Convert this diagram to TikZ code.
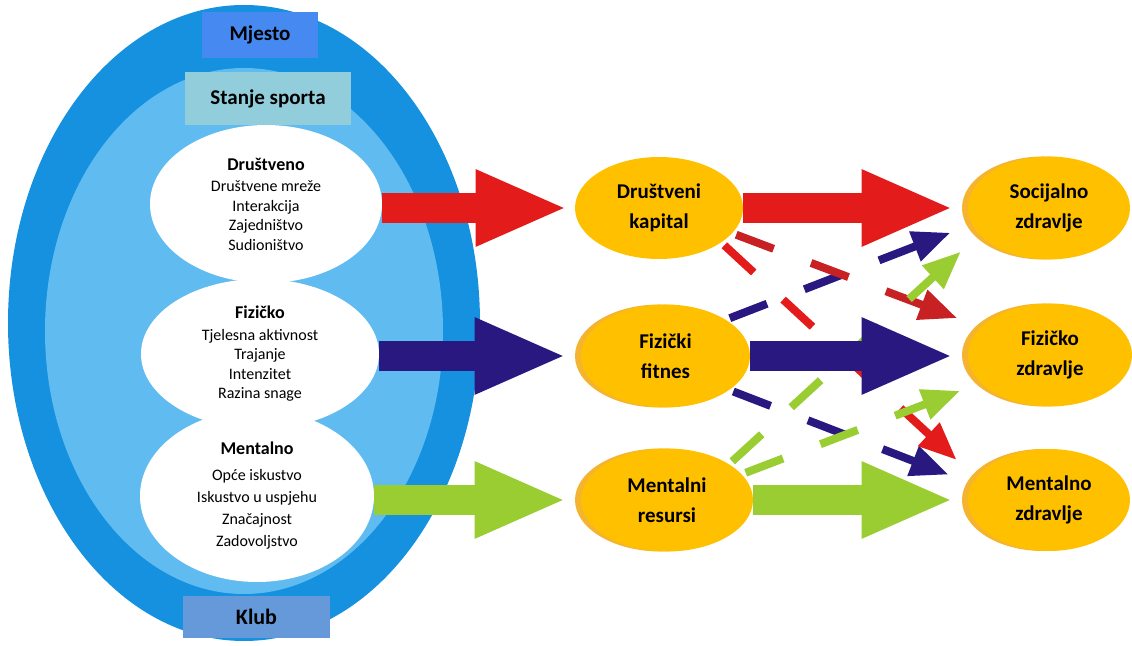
\documentclass[tikz,border=0pt]{standalone}
\usepackage{fontspec}
\setmainfont{Carlito}
\usepackage{tikz}
\usetikzlibrary{arrows.meta}
\usetikzlibrary{shapes.geometric}
\usetikzlibrary{shadows}
\definecolor{ringblue}{RGB}{21,145,223}
\definecolor{innerblue}{RGB}{96,188,240}
\definecolor{mjestoblue}{RGB}{70,137,240}
\definecolor{stanjeblue}{RGB}{146,205,220}
\definecolor{klubblue}{RGB}{102,153,217}
\definecolor{goldfill}{RGB}{255,192,0}
\definecolor{goldshade}{RGB}{244,180,48}
\definecolor{socred}{RGB}{227,27,27}
\definecolor{darkred}{RGB}{200,33,36}
\definecolor{navy}{RGB}{41,24,128}
\definecolor{limegreen}{RGB}{154,205,50}
\begin{document}
\begin{tikzpicture}[x=0.5pt,y=-0.5pt,
    ring/.style={ellipse,inner sep=0pt},
    area/.style={ellipse,fill=white,inner sep=0pt,align=center,font=\fontsize{8}{9.75}\selectfont},
    tag/.style={rectangle,inner sep=0pt,font=\fontsize{10.5}{12}\selectfont\bfseries},
    goal/.style={ellipse,fill=goldfill,inner sep=0pt,align=center,font=\fontsize{10.5}{15}\selectfont\bfseries},
    shaded/.style={general shadow={fill=goldshade,shadow xshift=-3pt,shadow yshift=0pt}},
    bigarrow/.style={line width=15pt,shorten >=7pt,-{Triangle[length=46pt,width=35pt]}},
    dasharrow/.style={line width=4pt,dash pattern=on 20pt off 20pt,shorten <=2pt,-{Triangle[length=19pt,width=15pt]}}]
	\useasboundingbox (0,0) rectangle (1132,646);
	% sport club rings
	\node[ring,fill=ringblue,minimum width=236pt,minimum height=318pt] (OUTER) at (244,323) {};
	\node[ring,fill=innerblue,minimum width=199pt,minimum height=263pt] (INNER) at (244,331) {};
	\node[area,minimum width=116pt,minimum height=79pt] (DRUSTVENO) at (266,204) {{\fontsize{9}{9.75}\selectfont\bfseries Društveno}\\[1pt]Društvene mreže\\Interakcija\\Zajedništvo\\Sudioništvo};
	\node[area,minimum width=119pt,minimum height=75pt] (FIZICKO) at (260,354) {{\fontsize{9}{9.75}\selectfont\bfseries Fizičko}\\[1pt]Tjelesna aktivnost\\Trajanje\\Intenzitet\\Razina snage};
	\node[area,minimum width=117pt,minimum height=86pt,font=\fontsize{8}{11}\selectfont] (MENTALNO) at (257,496) {{\fontsize{9}{11}\selectfont\bfseries Mentalno}\\[2pt]Opće iskustvo\\Iskustvo u uspjehu\\Značajnost\\Zadovoljstvo};
	\node[tag,fill=mjestoblue,minimum width=58pt,minimum height=23pt] (MJESTO) at (260,35) {Mjesto};
	\node[tag,fill=stanjeblue,minimum width=83pt,minimum height=26.5pt] (STANJE) at (268,98.5) {Stanje sporta};
	\node[tag,fill=klubblue,minimum width=73.5pt,minimum height=21pt,font=\fontsize{11}{12}\selectfont\bfseries] (KLUB) at (256.5,617) {Klub};
	% resources and health
	\node[goal,minimum width=84pt,minimum height=51pt] (KAPITAL) at (659,208) {Društveni\\kapital};
	\node[goal,shaded,minimum width=84.5pt,minimum height=51.5pt] (FITNES) at (665.5,356) {Fizički\\fitnes};
	\node[goal,shaded,minimum width=86pt,minimum height=51.5pt] (RESURSI) at (667,500) {Mentalni\\resursi};
	\node[goal,shaded,minimum width=81pt,minimum height=51.5pt] (SOC_ZDRAVLJE) at (1049,208) {Socijalno\\zdravlje};
	\node[goal,shaded,minimum width=82pt,minimum height=51.5pt] (FIZ_ZDRAVLJE) at (1050,355) {Fizičko\\zdravlje};
	\node[goal,shaded,minimum width=81pt,minimum height=51pt] (MENT_ZDRAVLJE) at (1049,500) {Mentalno\\zdravlje};
	% cross effects
	\draw[dasharrow,navy,shorten >=11.5pt] (FITNES.31) -- (SOC_ZDRAVLJE.-168);
	\draw[dasharrow,navy,shorten >=12.5pt] (FITNES.-28) -- (MENT_ZDRAVLJE.168);
	\draw[dasharrow,darkred,shorten >=12.5pt] (KAPITAL.-19) -- (FIZ_ZDRAVLJE.158);
	\draw[dasharrow,socred,shorten >=13pt] (KAPITAL.-29) -- (MENT_ZDRAVLJE.163);
	\draw[dasharrow,limegreen,shorten >=12.5pt] (RESURSI.30) -- (SOC_ZDRAVLJE.-159);
	\draw[dasharrow,limegreen,shorten >=11pt] (RESURSI.19) -- (FIZ_ZDRAVLJE.-158);
	% main effects
	\draw[bigarrow,socred,shorten >=3.5pt] (DRUSTVENO.east |- KAPITAL.west) -- (KAPITAL.west);
	\draw[bigarrow,navy] (FIZICKO.east |- FITNES.west) -- (FITNES.west);
	\draw[bigarrow,limegreen] (MENTALNO.east |- RESURSI.west) -- (RESURSI.west);
	\draw[bigarrow,socred] (KAPITAL.east) -- (SOC_ZDRAVLJE.west);
	\draw[bigarrow,navy] (FITNES.east) -- (FITNES.east -| FIZ_ZDRAVLJE.west);
	\draw[bigarrow,limegreen] (RESURSI.east) -- (MENT_ZDRAVLJE.west);
\end{tikzpicture}
\end{document}
